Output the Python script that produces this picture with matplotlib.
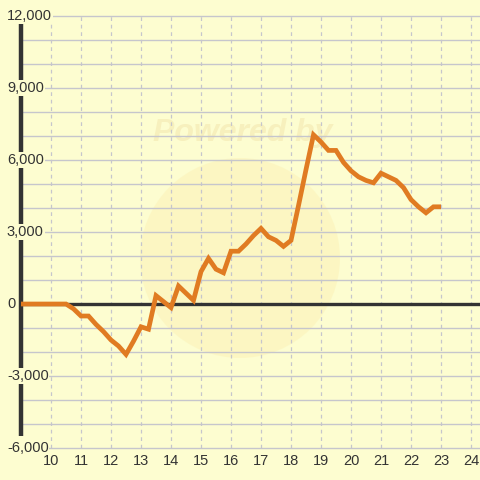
#!/usr/bin/env python3

import matplotlib
matplotlib.use("Agg")
import matplotlib.pyplot as plt
from matplotlib.patches import Circle

# hours (quarter-hour steps) and cumulative value
hours = [9.0, 9.25, 9.5, 9.75, 10.0, 10.25, 10.5, 10.75, 11.0, 11.25, 11.5, 11.75,
         12.0, 12.25, 12.5, 12.75, 13.0, 13.25, 13.5, 13.75, 14.0, 14.25, 14.5, 14.75,
         15.0, 15.25, 15.5, 15.75, 16.0, 16.25, 16.5, 16.75, 17.0, 17.25, 17.5, 17.75,
         18.0, 18.25, 18.5, 18.75, 19.0, 19.25, 19.5, 19.75, 20.0, 20.25, 20.5, 20.75,
         21.0, 21.25, 21.5, 21.75, 22.0, 22.25, 22.5, 22.75, 23.0]
values = [0, 0, 0, 0, 0, 0, 0, -200, -500, -500, -850, -1150,
          -1500, -1750, -2100, -1550, -950, -1050, 350, 100, -150, 750, 450, 150,
          1350, 1900, 1450, 1300, 2200, 2200, 2500, 2850, 3150, 2800, 2650, 2400,
          2650, 4100, 5600, 7050, 6750, 6400, 6400, 5900, 5550, 5300, 5150, 5050,
          5450, 5300, 5150, 4850, 4350, 4050, 3800, 4050, 4050]

x_ticks = list(range(10, 25))
y_ticks = [-6000, -3000, 0, 3000, 6000, 9000, 12000]
y_grid = list(range(-6000, 12001, 1000))

BG = "#fdfdd0"
TXT = "#333333"

fig = plt.figure(figsize=(4.8, 4.8), dpi=100, facecolor=BG)
ax = fig.add_axes([0, 0, 1, 1])
ax.set_facecolor(BG)
ax.set_xlim(8.3, 24.3)
ax.set_ylim(-7333, 12667)
ax.axis("off")

# faint watermark
wm = Circle((240 / 480, 1 - 258 / 480), 100 / 480, transform=ax.transAxes,
            facecolor="#fcf2b8", edgecolor="none", alpha=0.55, zorder=0)
ax.add_patch(wm)
ax.text(243 / 480, 1 - 133 / 480, "Powered by", transform=ax.transAxes, ha="center",
        va="center", fontsize=23, fontweight="bold", style="italic",
        color="#f7f0bd", family="Liberation Sans", zorder=0.5)

# grid
ax.hlines(y_grid, 9, 24.3, colors="#c6c6cc", linewidth=1.0, zorder=1)
ax.vlines(x_ticks, -6000, 12000, colors="#c6c6cc", linewidth=0.9,
          linestyles=(0, (3, 3)), zorder=1)

# axis lines
ax.plot([9, 9], [-5500, 11667], color=TXT, linewidth=3.2, solid_capstyle="butt", zorder=2)
ax.plot([9, 24.3], [0, 0], color=TXT, linewidth=2.4, solid_capstyle="butt", zorder=2)

# data
ax.plot(hours, values, color="#e07b22", linewidth=3.4, solid_joinstyle="miter",
        solid_capstyle="butt", zorder=3)

# tick labels
for v in y_ticks:
    ax.text(8.53, v, f"{v:,}", ha="left", va="center", fontsize=10.5, color=TXT,
            family="Liberation Sans", zorder=4,
            bbox=dict(facecolor=BG, edgecolor="none", pad=0.5))
for h in x_ticks:
    ax.text(h, -6542, str(h), ha="center", va="center", fontsize=10.5, color=TXT,
            family="Liberation Sans", zorder=4)

fig.savefig("out.png", dpi=100, facecolor=BG)
plt.close(fig)
